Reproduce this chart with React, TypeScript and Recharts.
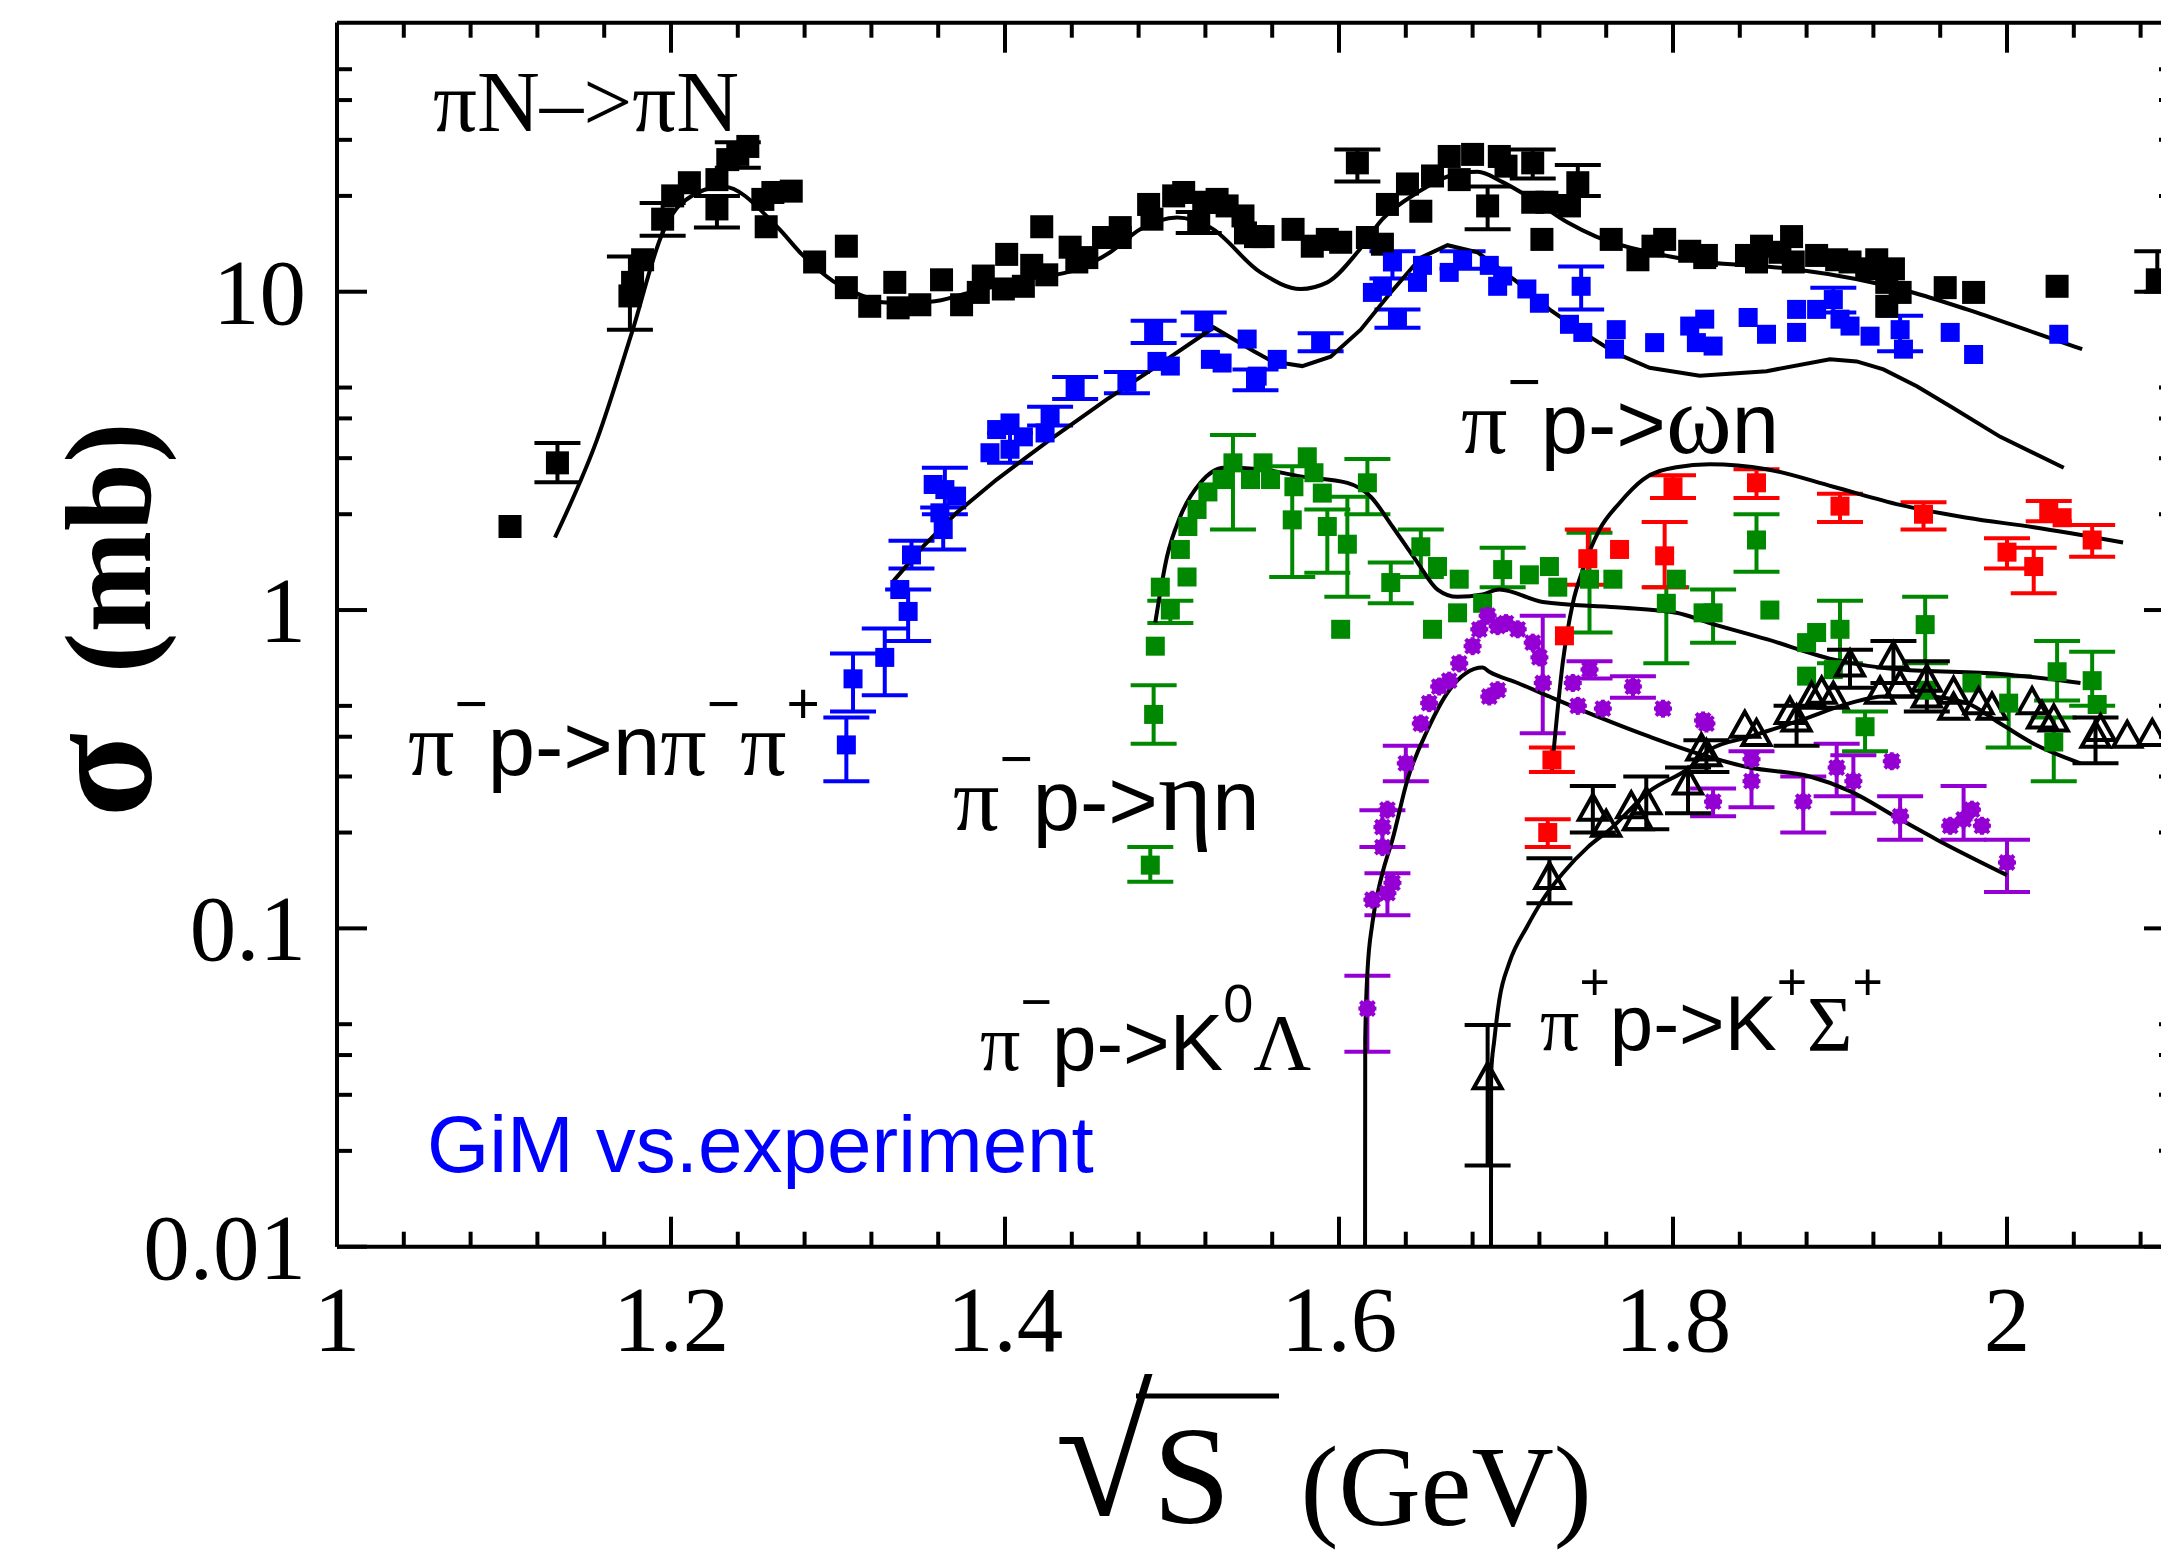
import React from 'react';
import { ComposedChart, XAxis, YAxis, Scatter, Line, ErrorBar } from 'recharts';

const SERIF = '"Liberation Serif", "Times New Roman", serif';
const SANS = '"Liberation Sans", Arial, sans-serif';

const X_TICKS = [1, 1.04, 1.08, 1.12, 1.16, 1.2, 1.24, 1.28, 1.32, 1.36, 1.4, 1.44, 1.48, 1.52, 1.56, 1.6,
  1.64, 1.68, 1.72, 1.76, 1.8, 1.84, 1.88, 1.92, 1.96, 2, 2.04, 2.08];
const X_LABELS: Record<string, string> = { '1': '1', '1.2': '1.2', '1.4': '1.4', '1.6': '1.6', '1.8': '1.8', '2': '2' };
const Y_TICKS = [0.01, 0.02, 0.03, 0.04, 0.05, 0.1, 0.2, 0.3, 0.4, 0.5, 1, 2, 3, 4, 5, 10, 20, 30, 40, 50];
const Y_LABELS: Record<string, string> = { '0.01': '0.01', '0.1': '0.1', '1': '1', '10': '10' };

// points: [sqrt(s), sigma, errLow?, errHigh?]
const piN = [
  [1.1036, 1.83], [1.132, 2.9, 2.52, 3.35], [1.177, 10.7], [1.183, 12.6], [1.1754, 9.7, 7.6, 12.9],
  [1.195, 16.9, 15.0, 19.0], [1.201, 20.0], [1.211, 22.0], [1.2275, 22.5], [1.2275, 18.2, 15.9, 20.0],
  [1.234, 26.0], [1.24, 27.0, 24.5, 29.5], [1.246, 28.6], [1.255, 19.5], [1.257, 16.0], [1.261, 20.5],
  [1.272, 20.7], [1.286, 12.4], [1.305, 13.9], [1.305, 10.3], [1.319, 9.0], [1.334, 10.7], [1.336, 8.9],
  [1.349, 9.1], [1.362, 10.9], [1.374, 9.1], [1.384, 9.95], [1.387, 11.2], [1.399, 10.2], [1.401, 13.1],
  [1.411, 10.4], [1.416, 12.1], [1.422, 16.0], [1.425, 11.3], [1.439, 13.8], [1.443, 12.4], [1.449, 12.8],
  [1.459, 14.8], [1.469, 15.9], [1.469, 14.8], [1.486, 18.8], [1.488, 16.9], [1.501, 20.0], [1.507, 20.5],
  [1.516, 16.5, 15.3, 17.8], [1.519, 19.1], [1.527, 19.5], [1.533, 18.6], [1.5425, 17.3], [1.544, 15.3],
  [1.55, 14.9], [1.5545, 14.9], [1.5725, 15.7], [1.584, 13.9], [1.593, 14.6], [1.601, 14.3],
  [1.611, 25.4, 22.2, 28.0], [1.617, 14.8], [1.626, 14.1], [1.629, 18.8], [1.641, 21.8], [1.649, 17.9],
  [1.656, 23.1], [1.666, 26.6], [1.672, 22.5], [1.68, 27.0], [1.689, 18.6, 15.7, 21.4], [1.696, 26.6],
  [1.7, 24.8], [1.716, 25.4, 22.7, 28.0], [1.716, 19.1], [1.7215, 14.6], [1.7245, 19.1], [1.738, 18.6],
  [1.743, 22.0, 20.0, 25.0], [1.763, 14.6], [1.779, 12.6], [1.788, 13.9], [1.795, 14.6], [1.81, 13.4],
  [1.819, 12.8], [1.82, 13.0], [1.844, 13.0], [1.85, 12.4], [1.853, 13.9], [1.864, 13.3], [1.871, 14.9],
  [1.872, 12.4], [1.886, 13.0], [1.898, 12.6], [1.906, 12.4], [1.916, 11.8], [1.922, 12.6], [1.932, 11.8],
  [1.928, 10.7], [1.928, 9.0], [1.936, 9.95], [1.963, 10.3], [1.98, 9.95], [2.03, 10.4], [2.09, 10.9, 10.0, 13.4],
];

const npipi = [
  [1.305, 0.377, 0.29, 0.46], [1.309, 0.608, 0.48, 0.73], [1.328, 0.71, 0.54, 0.875], [1.342, 0.99, 0.8, 1.16],
  [1.337, 1.16], [1.344, 1.49, 1.35, 1.65], [1.363, 1.79, 1.55, 2.1], [1.361, 2.02], [1.364, 2.39, 2.0, 2.8],
  [1.357, 2.48], [1.371, 2.28], [1.391, 3.12], [1.403, 3.2, 2.9, 3.6], [1.411, 3.5], [1.403, 3.87], [1.395, 3.69],
  [1.427, 4.06, 3.8, 4.35], [1.424, 3.6], [1.442, 5.0, 4.6, 5.4], [1.473, 5.2, 4.8, 5.6], [1.489, 7.5, 6.9, 8.1],
  [1.491, 6.04], [1.499, 5.84], [1.519, 8.05, 7.3, 8.6], [1.523, 6.13], [1.53, 5.97], [1.545, 7.1],
  [1.55, 5.3, 4.9, 5.7], [1.551, 5.43], [1.563, 6.13], [1.589, 6.92, 6.5, 7.4], [1.62, 9.95], [1.626, 10.4],
  [1.632, 12.4, 11.0, 13.4], [1.635, 8.2, 7.7, 8.8], [1.647, 10.7], [1.65, 12.1], [1.666, 11.5],
  [1.674, 12.6, 11.8, 13.4], [1.69, 12.1], [1.695, 10.4], [1.698, 11.2], [1.7125, 10.2], [1.72, 9.2],
  [1.738, 7.9], [1.745, 10.4, 8.8, 12.0], [1.746, 7.45], [1.766, 7.6], [1.765, 6.6], [1.789, 6.92],
  [1.81, 7.8], [1.814, 6.92], [1.819, 8.2], [1.824, 6.75], [1.845, 8.3], [1.856, 7.35], [1.874, 8.8],
  [1.874, 7.45], [1.886, 8.8], [1.896, 9.45, 8.6, 10.3], [1.9, 8.2], [1.906, 7.8], [1.918, 7.25],
  [1.936, 7.6, 6.5, 8.4], [1.938, 6.6], [1.966, 7.45], [1.98, 6.35], [2.031, 7.35],
];

const etaN = [
  [1.487, 0.158, 0.14, 0.18], [1.489, 0.47, 0.38, 0.58], [1.49, 0.77], [1.499, 1.0, 0.91, 1.07], [1.493, 1.18],
  [1.509, 1.27], [1.505, 1.55], [1.5095, 1.83], [1.515, 2.07], [1.5215, 2.35], [1.53, 2.57],
  [1.5365, 2.9, 1.79, 3.55], [1.547, 2.57], [1.5545, 2.9], [1.559, 2.57], [1.581, 3.03], [1.585, 2.7],
  [1.573, 2.44], [1.59, 2.33], [1.572, 1.92, 1.27, 2.83], [1.593, 1.83, 1.31, 2.07], [1.605, 1.61, 1.1, 2.27],
  [1.617, 2.51, 2.0, 2.98], [1.601, 0.87], [1.631, 1.22, 1.05, 1.41], [1.649, 1.58, 1.27, 1.79], [1.659, 1.37],
  [1.672, 1.25], [1.656, 0.87], [1.671, 0.98], [1.686, 1.05], [1.698, 1.34, 1.18, 1.57], [1.714, 1.29],
  [1.726, 1.37], [1.731, 1.18], [1.75, 1.25, 0.85, 1.75], [1.764, 1.25], [1.796, 1.05, 0.68, 1.18],
  [1.802, 1.25], [1.818, 0.98], [1.85, 1.66, 1.32, 2.0], [1.824, 0.98, 0.79, 1.16], [1.858, 1.0],
  [1.88, 0.79], [1.886, 0.85], [1.88, 0.62], [1.9, 0.87, 0.68, 1.07], [1.896, 0.65], [1.915, 0.43, 0.36, 0.48],
  [1.951, 0.9, 0.68, 1.1], [1.952, 0.56], [1.979, 0.59], [2.001, 0.51, 0.37, 0.62], [2.03, 0.64, 0.52, 0.8],
  [2.028, 0.385, 0.29, 0.46], [2.051, 0.6, 0.5, 0.74], [2.054, 0.505],
];

const omegaN = [
  [1.7275, 0.338, 0.31, 0.37], [1.725, 0.2, 0.18, 0.22], [1.735, 0.83], [1.749, 1.45, 1.2, 1.79], [1.768, 1.55],
  [1.8, 2.44, 2.25, 2.65], [1.795, 1.48, 1.18, 1.89], [1.85, 2.51, 2.25, 2.77], [1.9, 2.12, 1.89, 2.32],
  [1.95, 2.0, 1.79, 2.18], [2.0, 1.52, 1.35, 1.68], [2.016, 1.37, 1.13, 1.57], [2.025, 2.05, 1.9, 2.2],
  [2.033, 1.95], [2.051, 1.66, 1.47, 1.85],
];

const k0Lambda = [
  [1.617, 0.056, 0.041, 0.071], [1.629, 0.129, 0.11, 0.149], [1.62, 0.123], [1.632, 0.139], [1.626, 0.18],
  [1.626, 0.208, 0.18, 0.235], [1.629, 0.236], [1.64, 0.33, 0.29, 0.375], [1.649, 0.44], [1.654, 0.51],
  [1.66, 0.575], [1.666, 0.6], [1.672, 0.68], [1.68, 0.77], [1.684, 0.87], [1.689, 0.96], [1.695, 0.89],
  [1.69, 0.535], [1.695, 0.56], [1.7, 0.91], [1.707, 0.87], [1.716, 0.79], [1.72, 0.71], [1.722, 0.59, 0.41, 0.96],
  [1.74, 0.59], [1.743, 0.5], [1.75, 0.65, 0.61, 0.69], [1.758, 0.49], [1.776, 0.575, 0.53, 0.62], [1.794, 0.49],
  [1.818, 0.45], [1.82, 0.44], [1.824, 0.25, 0.225, 0.275], [1.847, 0.34], [1.847, 0.29, 0.24, 0.36],
  [1.878, 0.25, 0.2, 0.3], [1.898, 0.32, 0.26, 0.38], [1.908, 0.29, 0.23, 0.35], [1.931, 0.335],
  [1.936, 0.225, 0.19, 0.26], [1.966, 0.21], [1.974, 0.22, 0.19, 0.28], [1.979, 0.236], [1.985, 0.21],
  [2.0, 0.161, 0.13, 0.19],
];

const kSigma = [
  [1.689, 0.0338, 0.018, 0.0497], [1.726, 0.144, 0.12, 0.166], [1.752, 0.236, 0.2, 0.28], [1.76, 0.21],
  [1.775, 0.24], [1.779, 0.22], [1.784, 0.247, 0.205, 0.3], [1.809, 0.285, 0.23, 0.32], [1.817, 0.365],
  [1.82, 0.35, 0.31, 0.39], [1.843, 0.43], [1.85, 0.405], [1.87, 0.475], [1.874, 0.45, 0.375, 0.5],
  [1.883, 0.53], [1.889, 0.55], [1.896, 0.53], [1.906, 0.67, 0.57, 0.75], [1.924, 0.55],
  [1.932, 0.71, 0.59, 0.8], [1.936, 0.575], [1.952, 0.6, 0.48, 0.69], [1.952, 0.535], [1.968, 0.55],
  [1.968, 0.49], [1.983, 0.51], [1.991, 0.49], [2.015, 0.51], [2.021, 0.46], [2.028, 0.45],
  [2.053, 0.4, 0.33, 0.46], [2.056, 0.42], [2.072, 0.4], [2.087, 0.405],
];

// GiM curves
const piNCurve = [
  [1.1305, 1.69], [1.1557, 3.43], [1.1766, 7.45], [1.195, 15.3], [1.207, 19.1], [1.231, 21.4], [1.2635, 16.0],
  [1.279, 13.0], [1.297, 10.8], [1.313, 9.8], [1.329, 9.25], [1.355, 9.3], [1.379, 9.95], [1.411, 10.9],
  [1.443, 11.75], [1.463, 13.3], [1.481, 15.7], [1.503, 17.1], [1.523, 15.9], [1.553, 11.5], [1.577, 10.2],
  [1.593, 10.7], [1.611, 13.3], [1.626, 16.9], [1.647, 20.5], [1.666, 23.1], [1.683, 23.8], [1.698, 22.1],
  [1.716, 19.5], [1.737, 16.5], [1.754, 14.9], [1.786, 13.3], [1.822, 12.35], [1.856, 12.0], [1.876, 11.7],
  [1.942, 10.0], [1.976, 8.8], [2.016, 7.45], [2.045, 6.6],
];
const npipiCurve = [
  [1.333, 1.23], [1.351, 1.585], [1.371, 2.02], [1.395, 2.57], [1.427, 3.43], [1.461, 4.59], [1.491, 5.84],
  [1.525, 7.72], [1.549, 6.5], [1.56, 6.04], [1.578, 5.84], [1.595, 6.25], [1.613, 7.6], [1.631, 9.95],
  [1.649, 12.8], [1.665, 14.0], [1.683, 13.3], [1.707, 10.7], [1.726, 8.8], [1.746, 7.45], [1.766, 6.4],
  [1.786, 5.77], [1.816, 5.45], [1.856, 5.63], [1.894, 6.13], [1.91, 6.04], [1.926, 5.7], [1.946, 5.05],
  [1.966, 4.37], [1.996, 3.5], [2.034, 2.8],
];
const etaCurve = [
  [1.49, 0.914], [1.497, 1.47], [1.505, 1.97], [1.517, 2.51], [1.531, 2.8], [1.553, 2.77], [1.577, 2.63],
  [1.605, 2.51], [1.619, 2.27], [1.632, 1.83], [1.647, 1.41], [1.659, 1.16], [1.671, 1.1], [1.686, 1.12],
  [1.696, 1.16], [1.722, 1.06], [1.766, 1.02], [1.802, 0.98], [1.822, 0.91], [1.856, 0.81], [1.896, 0.7],
  [1.936, 0.65], [1.996, 0.63], [2.044, 0.59],
];
const omegaCurve = [
  [1.7275, 0.315], [1.734, 0.684], [1.74, 1.05], [1.746, 1.34], [1.756, 1.79], [1.768, 2.17], [1.782, 2.57],
  [1.802, 2.81], [1.822, 2.87], [1.856, 2.77], [1.896, 2.44], [1.936, 2.14], [1.976, 1.95], [2.016, 1.82],
  [2.0695, 1.63],
];
const k0Curve = [
  [1.6156, 0.01], [1.6157, 0.0446], [1.617, 0.0724], [1.62, 0.104], [1.626, 0.149], [1.632, 0.19],
  [1.641, 0.293], [1.653, 0.42], [1.666, 0.56], [1.686, 0.66], [1.69, 0.64], [1.707, 0.59], [1.726, 0.535],
  [1.756, 0.46], [1.786, 0.4], [1.818, 0.35], [1.846, 0.32], [1.882, 0.3], [1.906, 0.27], [1.936, 0.22],
  [1.958, 0.19], [2.0, 0.147],
];
const kSigmaCurve = [
  [1.691, 0.01], [1.6911, 0.035], [1.693, 0.0446], [1.696, 0.0596], [1.702, 0.078], [1.7125, 0.101],
  [1.722, 0.123], [1.734, 0.149], [1.749, 0.18], [1.762, 0.204], [1.786, 0.27], [1.81, 0.32], [1.822, 0.364],
  [1.846, 0.4], [1.876, 0.45], [1.906, 0.51], [1.926, 0.535], [1.952, 0.535], [1.976, 0.51], [1.996, 0.44],
  [2.016, 0.38], [2.044, 0.33],
];

const toCurve = (arr: number[][]) => arr.map(([x, y]) => ({ x, y }));
const plain = (arr: number[][]) => arr.filter((p) => p.length < 4).map(([x, y]) => ({ x, y }));
const withErr = (arr: number[][]) =>
  arr.filter((p) => p.length >= 4).map(([x, y, lo, hi]) => ({ x, y, err: [y - lo, hi - y] }));

const square = (size: number, color: string) => (p: any) =>
  <rect x={p.cx - size / 2} y={p.cy - size / 2} width={size} height={size} fill={color} />;

const triangle = (p: any) => (
  <polygon
    points={`${p.cx},${p.cy - 15} ${p.cx - 14},${p.cy + 10} ${p.cx + 14},${p.cy + 10}`}
    fill="none" stroke="#000" strokeWidth={4} strokeLinejoin="miter"
  />
);

const asterisk = (p: any) => (
  <g stroke="#9400D3" strokeWidth={4}>
    <line x1={p.cx - 9} x2={p.cx + 9} y1={p.cy} y2={p.cy} />
    <line x1={p.cx} x2={p.cx} y1={p.cy - 9} y2={p.cy + 9} />
    <line x1={p.cx - 7} x2={p.cx + 7} y1={p.cy - 7} y2={p.cy + 7} />
    <line x1={p.cx - 7} x2={p.cx + 7} y1={p.cy + 7} y2={p.cy - 7} />
    <circle cx={p.cx} cy={p.cy} r={6} fill="#9400D3" />
  </g>
);

const BottomTick = (p: any) => {
  const lab = X_LABELS[String(p.payload.value)];
  return (
    <g>
      <line x1={p.x} x2={p.x} y1={p.y} y2={p.y - (lab ? 30 : 15)} stroke="#000" strokeWidth={4} />
      {lab && (
        <text x={p.x} y={p.y + 104} textAnchor="middle" fontFamily={SERIF} fontSize={93} fill="#000">{lab}</text>
      )}
    </g>
  );
};
const TopTick = (p: any) => {
  const lab = X_LABELS[String(p.payload.value)];
  return <line x1={p.x} x2={p.x} y1={p.y} y2={p.y + (lab ? 30 : 15)} stroke="#000" strokeWidth={4} />;
};
const LeftTick = (p: any) => {
  const lab = Y_LABELS[String(p.payload.value)];
  return (
    <g>
      <line x1={p.x} x2={p.x + (lab ? 30 : 15)} y1={p.y} y2={p.y} stroke="#000" strokeWidth={4} />
      {lab && (
        <text x={p.x - 31} y={p.y + 32} textAnchor="end" fontFamily={SERIF} fontSize={93} fill="#000">{lab}</text>
      )}
    </g>
  );
};
const RightTick = (p: any) => {
  const lab = Y_LABELS[String(p.payload.value)];
  return <line x1={p.x} x2={p.x - (lab ? 30 : 15)} y1={p.y} y2={p.y} stroke="#000" strokeWidth={4} />;
};

const series = [
  { name: 'piN', data: piN, shape: square(23, '#000'), color: '#000' },
  { name: 'npipi', data: npipi, shape: square(19, '#0000FF'), color: '#0000FF' },
  { name: 'eta', data: etaN, shape: square(19, '#008800'), color: '#008800' },
  { name: 'omega', data: omegaN, shape: square(19, '#FF0000'), color: '#FF0000' },
  { name: 'k0', data: k0Lambda, shape: asterisk, color: '#9400D3' },
  { name: 'ksig', data: kSigma, shape: triangle, color: '#000' },
];

const curves = [
  { name: 'c1', data: piNCurve, type: 'monotone' },
  { name: 'c2', data: npipiCurve, type: 'linear' },
  { name: 'c3', data: etaCurve, type: 'monotone' },
  { name: 'c4', data: omegaCurve, type: 'monotone' },
  { name: 'c5', data: k0Curve, type: 'monotone' },
  { name: 'c6', data: kSigmaCurve, type: 'monotone' },
];

const axisLine = { stroke: '#000', strokeWidth: 4 };

export default function App() {
  const sup = { fontSize: 57 };
  const greek = { fontFamily: SERIF, fontSize: 92 };
  return (
    <div style={{ position: 'relative', width: 2161, height: 1556, overflow: 'hidden', background: '#fff' }}>
      <style>{'body{margin:0}'}</style>
      <ComposedChart width={2195} height={1556} margin={{ top: 21.7, right: 20, bottom: 249.3, left: 237 }}>
        <XAxis dataKey="x" type="number" domain={[1, 2.1]} allowDataOverflow ticks={X_TICKS} interval={0}
          tick={BottomTick} tickLine={false} tickSize={0} tickMargin={0} axisLine={axisLine} height={60} />
        <XAxis xAxisId="t" orientation="top" dataKey="x" type="number" domain={[1, 2.1]} allowDataOverflow
          ticks={X_TICKS} interval={0} tick={TopTick} tickLine={false} tickSize={0} tickMargin={0}
          axisLine={axisLine} height={1} />
        <YAxis dataKey="y" type="number" scale="log" domain={[0.01, 70]} allowDataOverflow ticks={Y_TICKS}
          interval={0} tick={LeftTick} tickLine={false} tickSize={0} tickMargin={0} axisLine={axisLine} width={100} />
        <YAxis yAxisId="r" orientation="right" dataKey="y" type="number" scale="log" domain={[0.01, 70]}
          allowDataOverflow ticks={Y_TICKS} interval={0} tick={RightTick} tickLine={false} tickSize={0}
          tickMargin={0} axisLine={axisLine} width={1} />
        {series.map((s) => (
          <Scatter key={s.name} name={s.name} data={plain(s.data)} dataKey="y" shape={s.shape}
            isAnimationActive={false} />
        ))}
        {series.map((s) => (
          <Scatter key={s.name + 'e'} name={s.name + ' err'} data={withErr(s.data)} dataKey="y" shape={s.shape}
            isAnimationActive={false}>
            <ErrorBar dataKey="err" direction="y" width={23} stroke={s.color} strokeWidth={4} />
          </Scatter>
        ))}
        {curves.map((c) => (
          <Line key={c.name} data={toCurve(c.data)} dataKey="y" type={c.type as any} stroke="#000"
            strokeWidth={4} dot={false} activeDot={false} isAnimationActive={false} />
        ))}
      </ComposedChart>
      <svg width={2161} height={1556} style={{ position: 'absolute', left: 0, top: 0, pointerEvents: 'none' }}>
        <text x={433} y={131} fontFamily={SERIF} fontSize={87} fill="#000">πN–&gt;πN</text>
        <text x={408} y={775} fontFamily={SANS} fontSize={85} fill="#000">
          <tspan {...greek}>π</tspan><tspan {...sup} dy={-52}>−</tspan><tspan dy={52}>p-&gt;n</tspan>
          <tspan {...greek}>π</tspan><tspan {...sup} dy={-52}>−</tspan>
          <tspan dy={52} {...greek}>π</tspan><tspan {...sup} dy={-52}>+</tspan>
        </text>
        <text x={1461} y={453} fontFamily={SANS} fontSize={85} fill="#000">
          <tspan {...greek}>π</tspan><tspan {...sup} dy={-52}>−</tspan><tspan dy={52}>p-&gt;</tspan>
          <tspan {...greek} fontSize={100}>ω</tspan><tspan>n</tspan>
        </text>
        <text x={953} y={830} fontFamily={SANS} fontSize={85} fill="#000">
          <tspan {...greek}>π</tspan><tspan {...sup} dy={-52}>−</tspan><tspan dy={52}>p-&gt;</tspan>
          <tspan {...greek} fontSize={104}>η</tspan><tspan>n</tspan>
        </text>
        <text x={980} y={1070} fontFamily={SANS} fontSize={80} fill="#000">
          <tspan fontFamily={SERIF}>π</tspan><tspan fontSize={54} dy={-50}>−</tspan><tspan dy={50}>p-&gt;K</tspan>
          <tspan fontSize={54} dy={-48}>0</tspan><tspan dy={48} fontFamily={SERIF}>Λ</tspan>
        </text>
        <text x={1540} y={1050} fontFamily={SANS} fontSize={78} fill="#000">
          <tspan fontFamily={SERIF}>π</tspan><tspan fontSize={52} dy={-50}>+</tspan><tspan dy={50}>p-&gt;K</tspan>
          <tspan fontSize={52} dy={-50}>+</tspan><tspan dy={50} fontFamily={SERIF}>Σ</tspan>
          <tspan fontSize={52} dy={-50}>+</tspan>
        </text>
        <text x={427} y={1172} fontFamily={SANS} fontSize={80} fill="#0000FF">GiM vs.experiment</text>
        <text x={150} y={620} transform="rotate(-90 150 620)" textAnchor="middle" fontFamily={SERIF}
          fontWeight="bold" fontSize={122} fill="#000">
          <tspan fontSize={155}>σ</tspan><tspan dx={60}>(mb)</tspan>
        </text>
        <text x={1055} y={1515} fontFamily={SERIF} fontSize={178} fill="#000">
          √<tspan fontSize={140} dy={8}>S</tspan>
          <tspan fontSize={114} dx={70} dy={2}>(GeV)</tspan>
        </text>
        <line x1={1136} x2={1279} y1={1396} y2={1396} stroke="#000" strokeWidth={5} />
      </svg>
    </div>
  );
}
